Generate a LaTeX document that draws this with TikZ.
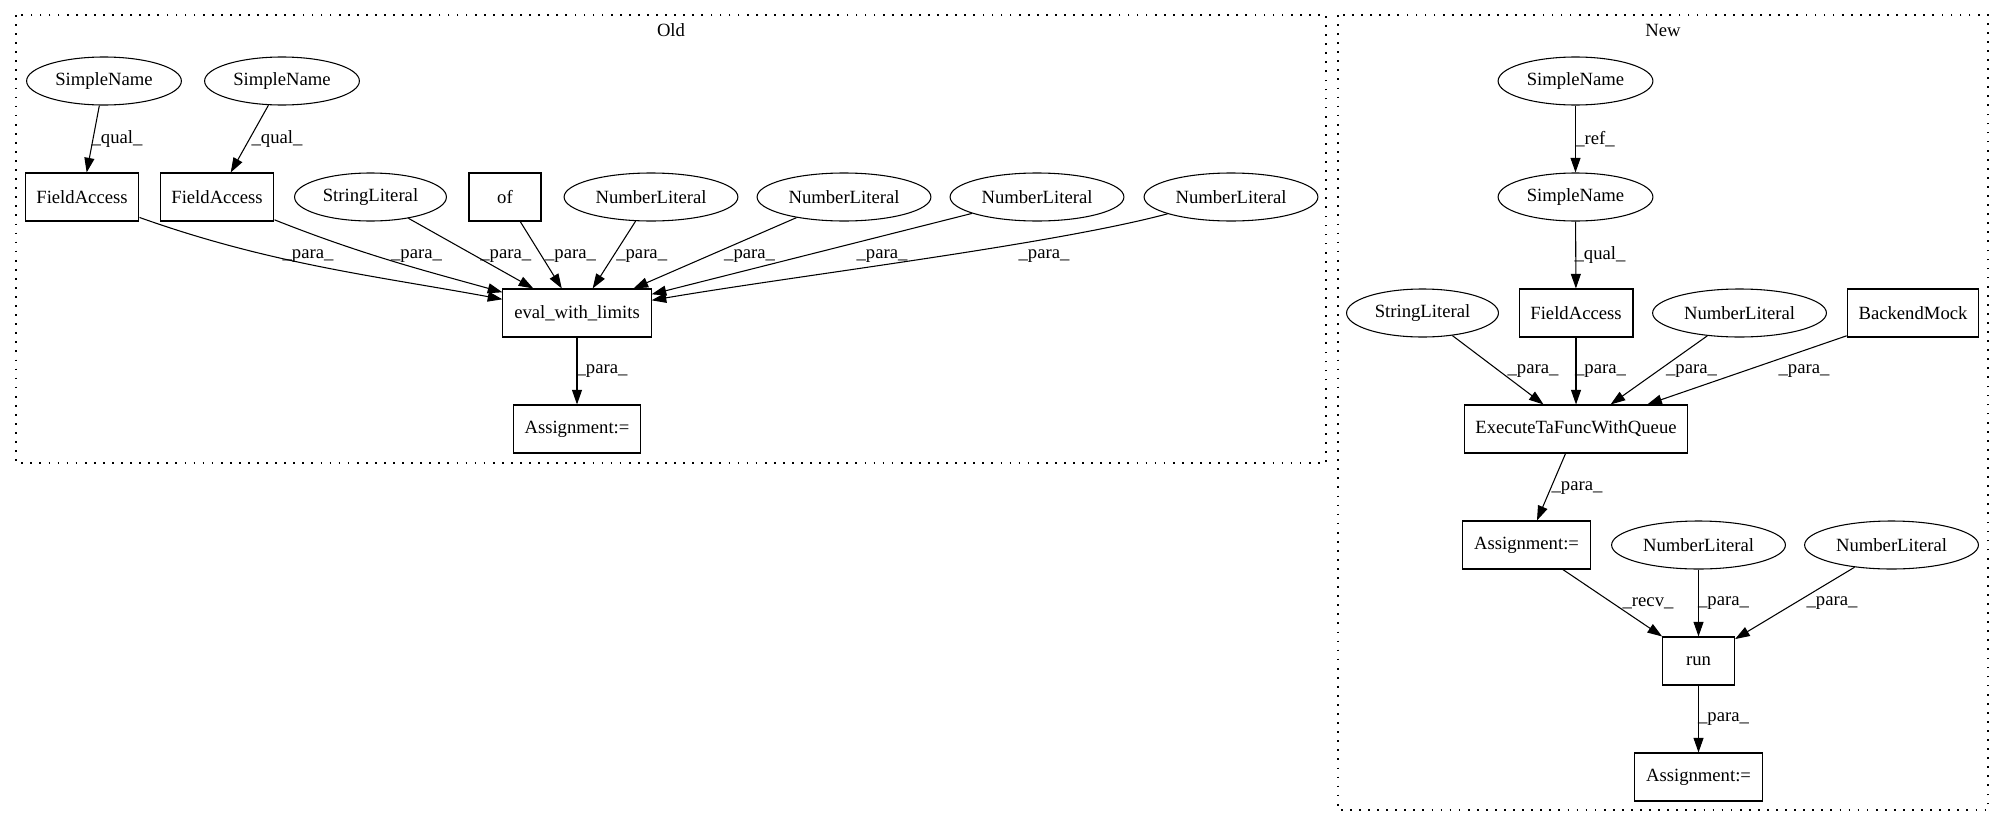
\documentclass[tikz,border=0pt]{standalone}
\usepackage{fontspec}
\setmainfont{Liberation Serif}
\usepackage{tikz}
\usetikzlibrary{shapes,arrows.meta}

\begin{document}
\begin{tikzpicture}[
    x=0.75pt, y=-0.75pt,
    every node/.style={font=\fontsize{14pt}{16pt}\selectfont},
    box/.style={rectangle, draw, line width=0.8pt, inner xsep=8.5pt, minimum height=36pt, minimum width=54pt},
    ent/.style={ellipse, draw, line width=0.8pt, inner xsep=4.5pt, minimum height=36pt},
    lbl/.style={inner sep=0pt},
    arrow/.style={line width=0.8pt, -{Triangle[length=11pt,width=7.5pt]}},
    cluster/.style={line width=0.9pt, dash pattern=on 1.3pt off 5.5pt}
]
\fill[white] (0,0) rectangle (2004,828);

% Old
\draw[cluster] (16,15) rectangle (1326,463);
\node (old) at (671,30) {Old};
\node[ent] (sn1) at (104,81) {SimpleName};
\node[ent] (sn2) at (282,81) {SimpleName};
\node[box] (fa1) at (82,197) {FieldAccess};
\node[box] (fa2) at (217,197) {FieldAccess};
\node[ent] (sl1) at (370.5,197) {StringLiteral};
\node[box] (of) at (505,197) {of};
\node[ent] (nl1) at (651,197) {NumberLiteral};
\node[ent] (nl2) at (844,197) {NumberLiteral};
\node[ent] (nl3) at (1037,197) {NumberLiteral};
\node[ent] (nl4) at (1231,197) {NumberLiteral};
\node[box] (eval) at (577,313) {eval\_with\_limits};
\node[box] (asg1) at (577,429) {Assignment:=};

\draw[arrow] (sn1) -- (fa1);
\draw[arrow] (sn2) -- (fa2);
\draw[arrow] (fa1) .. controls (270,264) and (376,276) .. (eval);
\draw[arrow] (fa2) .. controls (363,255) and (426,271) .. (eval);
\draw[arrow] (sl1) -- (eval);
\draw[arrow] (of) -- (eval);
\draw[arrow] (nl1) -- (eval);
\draw[arrow] (nl2) -- (eval);
\draw[arrow] (nl3) -- (eval);
\draw[arrow] (nl4) .. controls (1050,245) and (800,275) .. (eval);
\draw[arrow] (eval) -- (asg1);

\node[lbl] (q1) at (117,139) {\_qual\_};
\node[lbl] (q2) at (277,139) {\_qual\_};
\node[lbl] (p1) at (308,256) {\_para\_};
\node[lbl] (p2) at (416.5,256) {\_para\_};
\node[lbl] (p3) at (505.8,256) {\_para\_};
\node[lbl] (p4) at (570.5,256) {\_para\_};
\node[lbl] (p5) at (641.7,256) {\_para\_};
\node[lbl] (p6) at (749.6,256) {\_para\_};
\node[lbl] (p7) at (882,256) {\_para\_};
\node[lbl] (p8) at (1044,256) {\_para\_};
\node[lbl] (p9) at (602,371) {\_para\_};

% New
\draw[cluster] (1338,15) rectangle (1988,810);
\node (new) at (1663,30) {New};
\node[ent] (snA) at (1575.5,81) {SimpleName};
\node[ent] (snB) at (1575.5,197) {SimpleName};
\node[ent] (sl2) at (1422.5,313) {StringLiteral};
\node[box] (fa3) at (1576,313) {FieldAccess};
\node[ent] (nl5) at (1739.5,313) {NumberLiteral};
\node[box] (bm) at (1913,313) {BackendMock};
\node[box] (exec) at (1576,429) {ExecuteTaFuncWithQueue};
\node[box] (asg2) at (1526.5,545) {Assignment:=};
\node[ent] (nl6) at (1698.5,545) {NumberLiteral};
\node[ent] (nl7) at (1891.5,545) {NumberLiteral};
\node[box] (run) at (1698.5,661) {run};
\node[box] (asg3) at (1698.5,777) {Assignment:=};

\draw[arrow] (snA) -- (snB);
\draw[arrow] (snB) -- (fa3);
\draw[arrow] (sl2) -- (exec);
\draw[arrow] (fa3) -- (exec);
\draw[arrow] (nl5) -- (exec);
\draw[arrow] (bm) -- (exec);
\draw[arrow] (exec) -- (asg2);
\draw[arrow] (asg2) -- (run);
\draw[arrow] (nl6) -- (run);
\draw[arrow] (nl7) -- (run);
\draw[arrow] (run) -- (asg3);

\node[lbl] (r1) at (1595,139) {\_ref\_};
\node[lbl] (q3) at (1600,255) {\_qual\_};
\node[lbl] (p10) at (1533,371) {\_para\_};
\node[lbl] (p11) at (1600.5,371) {\_para\_};
\node[lbl] (p12) at (1691.5,371) {\_para\_};
\node[lbl] (p13) at (1804,371) {\_para\_};
\node[lbl] (p14) at (1577,488) {\_para\_};
\node[lbl] (v1) at (1648,603) {\_recv\_};
\node[lbl] (p15) at (1723.5,603) {\_para\_};
\node[lbl] (p16) at (1832,603) {\_para\_};
\node[lbl] (p17) at (1723.5,719) {\_para\_};
\end{tikzpicture}
\end{document}
